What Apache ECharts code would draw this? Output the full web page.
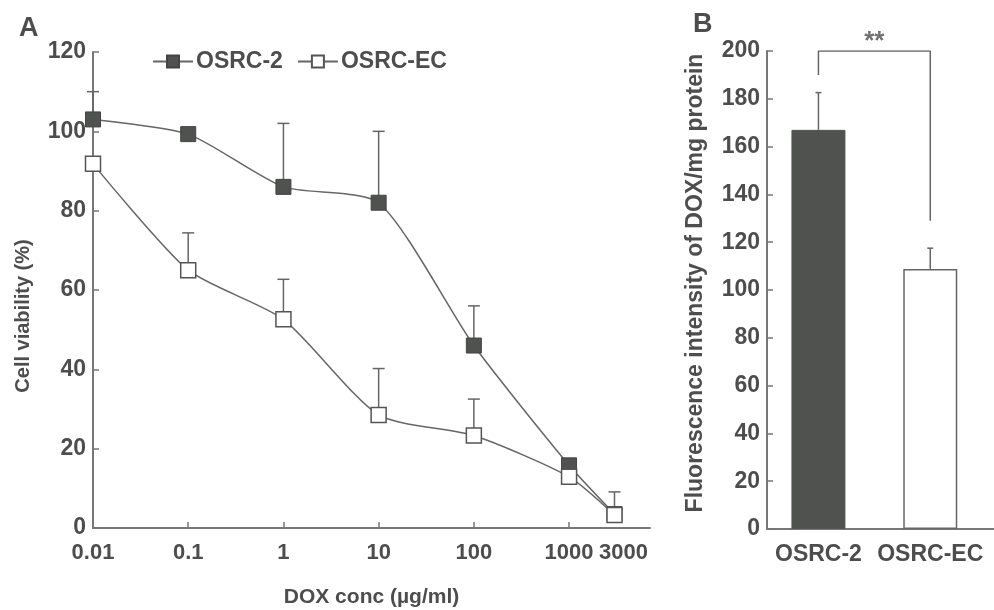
<!DOCTYPE html>
<html lang="en">
<head>
    <meta charset="UTF-8">
    <title>DOX cell viability / fluorescence</title>
    <script src="https://cdn.jsdelivr.net/npm/echarts@6/dist/echarts.min.js"></script>
    <style>
        html, body { margin: 0; padding: 0; background: #fff; }
        #main { width: 994px; height: 610px; }
    </style>
</head>
<body>
<div id="main"></div>
<script>
    // panel A: cell viability vs DOX concentration
    const concLabels = ['0.01', '0.1', '1', '10', '100', '1000', '3000'];
    const concs = [0.01, 0.1, 1, 10, 100, 1000, 3000];
    const osrc2Mean = [103, 99.3, 86, 82, 46, 15.8, 3.5];
    const osrc2Err = [7, 1, 16, 18, 10, 1, 1];
    const osrcEcMean = [91.8, 65, 52.6, 28.5, 23.3, 12.9, 3.3];
    const osrcEcErr = [0, 9.4, 10.1, 11.7, 9.2, 1, 5.8];

    // panel B: fluorescence intensity
    const cellLines = ['OSRC-2', 'OSRC-EC'];
    const fluoMean = [167, 108.8];
    const fluoErr = [15.6, 8.7];
    const bracketLeft = 190;
    const bracketTop = 200;
    const bracketRight = 129;

    const textColor = '#4d4d4d';
    const lineColor = '#666';
    const font = 'Liberation Sans, Arial, sans-serif';

    const logX = concs.map(c => Math.log10(c));

    function concLabel(v) {
        for (let i = 0; i < logX.length; i++) {
            if (Math.abs(logX[i] - v) < 1e-6) {
                // last label sits a bit right of its point in the original
                return i === logX.length - 1 ? '{r|' + concLabels[i] + '}' : concLabels[i];
            }
        }
        return '';
    }

    function errorBars(capHalf) {
        return function (params, api) {
            const x = api.value(0);
            const p0 = api.coord([x, api.value(1)]);
            const p1 = api.coord([x, api.value(2)]);
            const st = { stroke: lineColor, lineWidth: 1.5 };
            return {
                type: 'group',
                children: [
                    { type: 'line', shape: { x1: p0[0], y1: p0[1], x2: p1[0], y2: p1[1] }, style: st },
                    { type: 'line', shape: { x1: p1[0] - capHalf, y1: p1[1], x2: p1[0] + capHalf, y2: p1[1] }, style: st }
                ]
            };
        };
    }

    const axisText = { color: textColor, fontFamily: font, fontWeight: 'bold', fontSize: 23 };
    const nameText = { color: textColor, fontFamily: font, fontWeight: 'bold', fontSize: 20 };

    const option = {
        backgroundColor: '#fff',
        animation: false,
        title: [
            { text: 'A', left: 14, top: 10, textStyle: { color: textColor, fontFamily: font, fontWeight: 'bold', fontSize: 27 } },
            { text: 'B', left: 688, top: 6, textStyle: { color: textColor, fontFamily: font, fontWeight: 'bold', fontSize: 27 } }
        ],
        legend: {
            left: 147,
            top: 45,
            itemWidth: 40,
            itemHeight: 15,
            itemGap: 14,
            data: ['OSRC-2', 'OSRC-EC'],
            textStyle: { color: textColor, fontFamily: font, fontWeight: 'bold', fontSize: 23, padding: [0, 0, 0, -2] }
        },
        grid: [
            { left: 93, right: 344, top: 52, bottom: 82, outerBoundsMode: 'none' },
            { left: 767, right: 0, top: 51, bottom: 81, outerBoundsMode: 'none' }
        ],
        xAxis: [
            {
                gridIndex: 0,
                type: 'value',
                min: -2,
                max: 3.85,
                name: 'DOX conc (\u00b5g/ml)',
                nameLocation: 'middle',
                nameGap: 59,
                nameTextStyle: Object.assign({}, nameText, { fontSize: 21 }),
                axisLine: { onZero: false, lineStyle: { color: '#777', width: 2 } },
                axisTick: { inside: true, length: 6, lineStyle: { color: '#777', width: 1.5 }, customValues: [-1, 0, 1, 2, 3] },
                axisLabel: Object.assign({}, axisText, {
                    fontSize: 22,
                    margin: 14,
                    hideOverlap: false,
                    customValues: logX,
                    formatter: concLabel,
                    rich: { r: { color: textColor, fontFamily: font, fontWeight: 'bold', fontSize: 22, padding: [0, 0, 0, 18] } }
                }),
                splitLine: { show: false }
            },
            {
                gridIndex: 1,
                type: 'value',
                min: -0.46,
                max: 1.57,
                axisLine: { onZero: false, lineStyle: { color: '#777', width: 2 } },
                axisTick: { show: false },
                axisLabel: Object.assign({}, axisText, { margin: 14, hideOverlap: false, customValues: [0, 1], formatter: v => cellLines[Math.round(v)] }),
                splitLine: { show: false }
            }
        ],
        yAxis: [
            {
                gridIndex: 0,
                type: 'value',
                min: 0,
                max: 120,
                interval: 20,
                name: 'Cell viability (%)',
                nameLocation: 'middle',
                nameGap: 60,
                nameTextStyle: Object.assign({}, nameText, { padding: [0, 52, 0, 0] }),
                axisLine: { show: true, onZero: false, lineStyle: { color: '#777', width: 2 } },
                axisTick: { show: true, inside: true, length: 6, lineStyle: { color: '#777', width: 1.5 } },
                axisLabel: Object.assign({}, axisText, { margin: 7 }),
                splitLine: { show: false }
            },
            {
                gridIndex: 1,
                type: 'value',
                min: 0,
                max: 200,
                interval: 20,
                name: 'Fluorescence intensity of DOX/mg protein',
                nameLocation: 'middle',
                nameGap: 60,
                nameTextStyle: Object.assign({}, nameText, { fontSize: 23, padding: [0, 0, 0, 14] }),
                axisLine: { show: true, onZero: false, lineStyle: { color: '#777', width: 2 } },
                axisTick: { show: true, inside: true, length: 6, lineStyle: { color: '#777', width: 1.5 } },
                axisLabel: Object.assign({}, axisText, { margin: 7 }),
                splitLine: { show: false }
            }
        ],
        series: [
            {
                name: 'err-osrc2',
                type: 'custom',
                xAxisIndex: 0,
                yAxisIndex: 0,
                z: 1,
                renderItem: errorBars(6),
                encode: { x: 0, y: [1, 2] },
                data: logX.map((x, i) => [x, osrc2Mean[i], osrc2Mean[i] + osrc2Err[i]])
            },
            {
                name: 'err-osrcec',
                type: 'custom',
                xAxisIndex: 0,
                yAxisIndex: 0,
                z: 1,
                renderItem: errorBars(6),
                encode: { x: 0, y: [1, 2] },
                data: logX.map((x, i) => [x, osrcEcMean[i], osrcEcMean[i] + osrcEcErr[i]])
            },
            {
                name: 'OSRC-2',
                type: 'line',
                xAxisIndex: 0,
                yAxisIndex: 0,
                z: 3,
                smooth: 0.22,
                symbol: 'rect',
                symbolSize: 15,
                showAllSymbol: true,
                lineStyle: { color: lineColor, width: 1.5 },
                itemStyle: { color: '#4f524f', borderColor: '#444', borderWidth: 1 },
                data: logX.map((x, i) => [x, osrc2Mean[i]])
            },
            {
                name: 'OSRC-EC',
                type: 'line',
                xAxisIndex: 0,
                yAxisIndex: 0,
                z: 4,
                smooth: 0.22,
                symbol: 'rect',
                symbolSize: 15,
                showAllSymbol: true,
                lineStyle: { color: lineColor, width: 1.5 },
                itemStyle: { color: '#fff', borderColor: '#555', borderWidth: 1.5 },
                data: logX.map((x, i) => [x, osrcEcMean[i]])
            },
            {
                name: 'fluo-err',
                type: 'custom',
                xAxisIndex: 1,
                yAxisIndex: 1,
                z: 1,
                renderItem: errorBars(3),
                encode: { x: 0, y: [1, 2] },
                data: fluoMean.map((m, i) => [i, m, m + fluoErr[i]])
            },
            {
                name: 'fluo',
                type: 'bar',
                xAxisIndex: 1,
                yAxisIndex: 1,
                z: 2,
                barWidth: 54,
                data: [
                    { value: [0, fluoMean[0]], itemStyle: { color: '#4f524f', borderColor: '#555', borderWidth: 1 } },
                    { value: [1, fluoMean[1]], itemStyle: { color: '#fff', borderColor: '#666', borderWidth: 1.5 } }
                ]
            },
            {
                name: 'bracket',
                type: 'line',
                xAxisIndex: 1,
                yAxisIndex: 1,
                symbol: 'none',
                lineStyle: { color: lineColor, width: 1.5 },
                data: [[0, bracketLeft], [0, bracketTop], [1, bracketTop], [1, bracketRight]]
            },
            {
                name: 'stars',
                type: 'scatter',
                xAxisIndex: 1,
                yAxisIndex: 1,
                symbolSize: 0,
                label: {
                    show: true,
                    position: 'top',
                    distance: -4,
                    formatter: '**',
                    color: textColor,
                    fontFamily: font,
                    fontWeight: 'bold',
                    fontSize: 26
                },
                data: [[0.5, bracketTop]]
            }
        ]
    };

    const chart = echarts.init(document.getElementById('main'));
    chart.setOption(option);
</script>
</body>
</html>
